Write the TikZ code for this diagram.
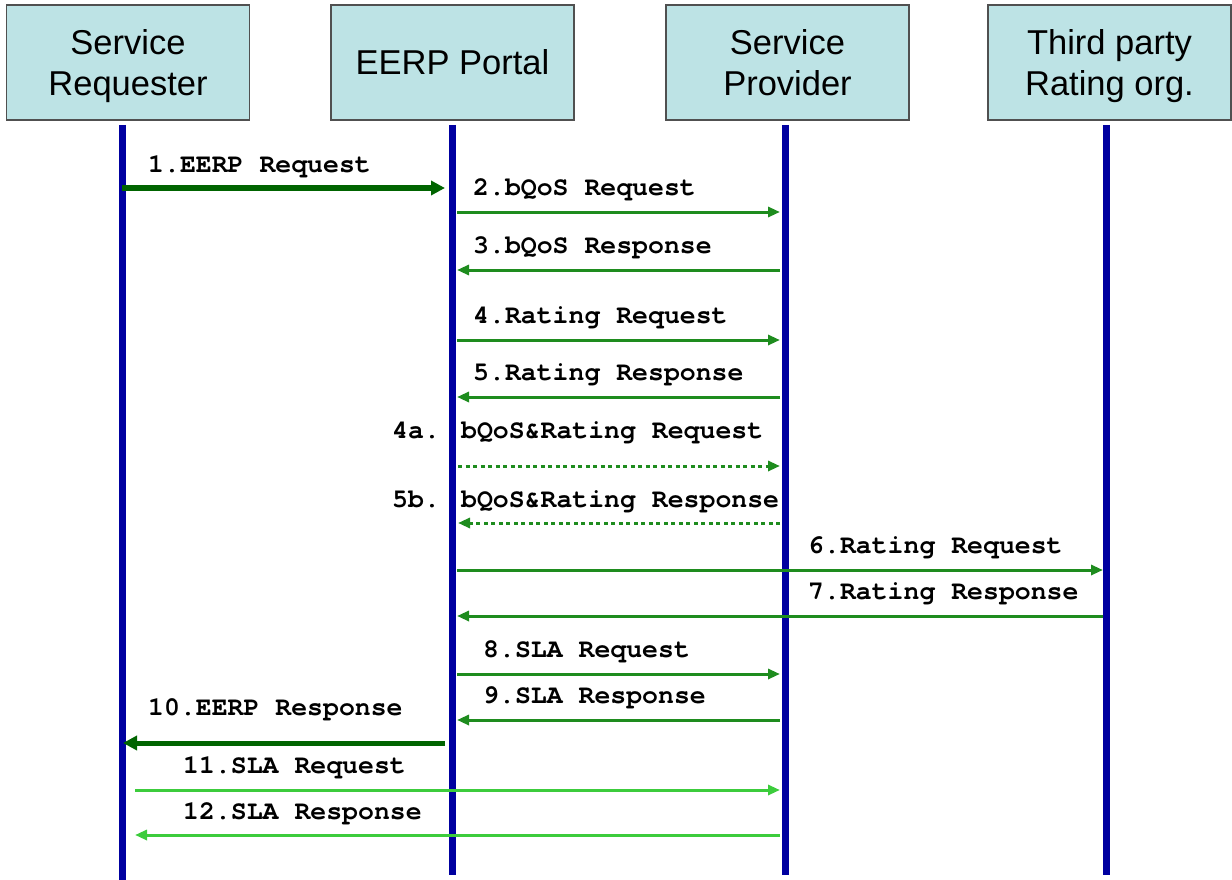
\documentclass[tikz,border=0pt]{standalone}
\usepackage{fontspec}
\setmainfont{Liberation Sans}
\newfontfamily\msgfont{texgyrecursor}[Extension=.otf, UprightFont=*-regular, BoldFont=*-bold]
\usetikzlibrary{arrows.meta}

\definecolor{boxfill}{HTML}{BDE3E5}
\definecolor{boxline}{HTML}{505050}
\definecolor{lifeblue}{HTML}{0000A0}
\definecolor{msggreen}{HTML}{1E8C1E}
\definecolor{darkmsg}{HTML}{006400}
\definecolor{lightmsg}{HTML}{3CCC3C}

\begin{document}
\begin{tikzpicture}[
            x=1pt, y=-1pt,
            actor/.style={draw=boxline, line width=1.5pt, fill=boxfill, minimum width=243pt,
                minimum height=115pt, inner sep=0pt, align=center, text depth=0pt,
                font=\fontsize{34.5}{41}\selectfont},
            life/.style={draw=lifeblue, line width=7pt},
            msg/.style={draw=msggreen, line width=3pt, -{Triangle[length=12pt,width=10pt]}},
            bigmsg/.style={draw=darkmsg, line width=5pt, -{Triangle[length=14pt,width=14pt]}},
            optmsg/.style={msg, dash pattern=on 4pt off 3.5pt},
            latemsg/.style={msg, draw=lightmsg},
            lbl/.style={anchor=base west, inner sep=0pt,
                font=\msgfont\bfseries\fontsize{26.5}{30}\selectfont},
        ]
            \useasboundingbox (0, 0) rectangle (1232, 880);
            \node[actor] (sr) at (128, 62.5) {Service\\Requester};
            \node[actor] (portal) at (452.5, 62.5) {EERP Portal};
            \node[actor] (sp) at (787.5, 62.5) {Service\\Provider};
            \node[actor] (tp) at (1109.5, 62.5) {Third party\\Rating org.};
            \coordinate (srtop) at (122, 125);
            \coordinate (srbot) at (122, 880);
            \coordinate (pltop) at (452, 125);
            \coordinate (plbot) at (452, 875);
            \coordinate (sptop) at (785, 125);
            \coordinate (spbot) at (785, 875);
            \coordinate (tptop) at (1106, 125);
            \coordinate (tpbot) at (1106, 875);
            \draw[life] (srtop) -- (srbot);
            \draw[life] (pltop) -- (plbot);
            \draw[life] (sptop) -- (spbot);
            \draw[life] (tptop) -- (tpbot);
            \draw[bigmsg, shorten >=7pt] (srtop |- 0,188) -- (pltop |- 0,188);
            \node[lbl] (m1) at (148, 172) {1.EERP Request};
            \draw[msg, shorten <=5pt, shorten >=5pt] (pltop |- 0,212) -- (sptop |- 0,212);
            \node[lbl] (m2) at (473, 195) {2.bQoS Request};
            \draw[msg, shorten <=5pt, shorten >=5pt] (sptop |- 0,270) -- (pltop |- 0,270);
            \node[lbl] (m3) at (473, 253) {3.bQoS Response};
            \draw[msg, shorten <=5pt, shorten >=5pt] (pltop |- 0,340) -- (sptop |- 0,340);
            \node[lbl] (m4) at (473, 323) {4.Rating Request};
            \draw[msg, shorten <=5pt, shorten >=5pt] (sptop |- 0,397) -- (pltop |- 0,397);
            \node[lbl] (m5) at (473, 380) {5.Rating Response};
            \draw[optmsg, shorten <=6pt, shorten >=5pt] (pltop |- 0,466) -- (sptop |- 0,466);
            \node[lbl] (m4a) at (392, 438) {4a. bQoS\&Rating Request};
            \draw[optmsg, shorten <=5pt, shorten >=6pt] (sptop |- 0,523) -- (pltop |- 0,523);
            \node[lbl] (m5b) at (392, 507) {5b. bQoS\&Rating Response};
            \draw[msg, shorten <=5pt, shorten >=3pt] (pltop |- 0,570) -- (tptop |- 0,570);
            \node[lbl] (m6) at (808, 553) {6.Rating Request};
            \draw[msg, shorten <=3pt, shorten >=5pt] (tptop |- 0,616) -- (pltop |- 0,616);
            \node[lbl] (m7) at (808, 599) {7.Rating Response};
            \draw[msg, shorten <=5pt, shorten >=5pt] (pltop |- 0,674) -- (sptop |- 0,674);
            \node[lbl] (m8) at (483, 657) {8.SLA Request};
            \draw[msg, shorten <=5pt, shorten >=5pt] (sptop |- 0,720) -- (pltop |- 0,720);
            \node[lbl] (m9) at (483, 703) {9.SLA Response};
            \draw[bigmsg, shorten <=7pt, shorten >=1pt] (pltop |- 0,743) -- (srtop |- 0,743);
            \node[lbl] (m10) at (148, 715) {10.EERP Response};
            \draw[latemsg, shorten <=13pt, shorten >=5pt] (srtop |- 0,790) -- (sptop |- 0,790);
            \node[lbl] (m11) at (183, 773) {11.SLA Request};
            \draw[latemsg, shorten <=5pt, shorten >=13pt] (sptop |- 0,835) -- (srtop |- 0,835);
            \node[lbl] (m12) at (183, 819) {12.SLA Response};
        \end{tikzpicture}
\end{document}
